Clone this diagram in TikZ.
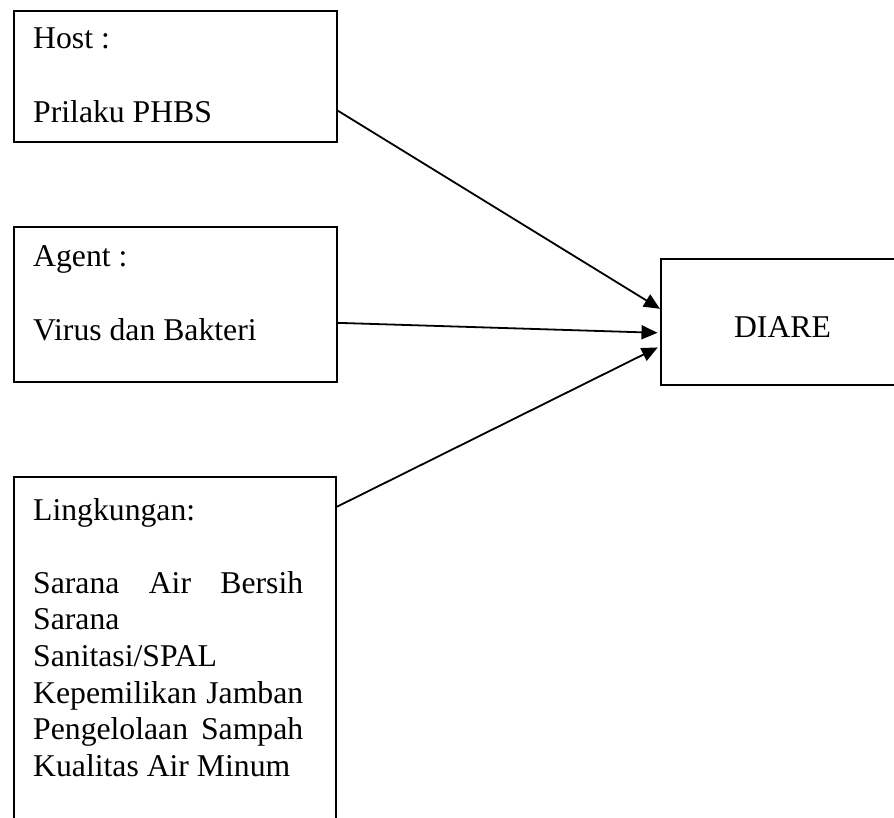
\documentclass[tikz,border=0pt]{standalone}
\usepackage{fontspec}
\setmainfont{Liberation Serif}
\usetikzlibrary{arrows.meta,calc}
\begin{document}
\begin{tikzpicture}[x=1pt,y=-1pt,
  box/.style={draw, line width=2pt, rectangle, inner sep=0pt, anchor=north west},
  txt/.style={anchor=base west, inner sep=0pt, font=\fontsize{31.7}{36.6}\selectfont},
  conn/.style={line width=1.8pt, -{Triangle[length=16pt,width=14pt]}}]
\useasboundingbox (0,0) rectangle (894,818);
\clip (0,0) rectangle (894,818);
% boxes
\node[box, minimum width=323, minimum height=131.5] (host) at (13,10) {};
\node[box, minimum width=323, minimum height=155] (agent) at (13,226) {};
\node[box, minimum width=322, minimum height=420] (ling) at (13,476) {};
\node[box, minimum width=243, minimum height=126] (diare) at (660,258) {};
% texts
\node[txt] (hostt) at ($(host.north west)+(20,39)$) {\vtop{\hbox{Host :}\hbox{}\hbox{Prilaku PHBS}}};
\node[txt] (agentt) at ($(agent.north west)+(20,41)$) {\vtop{\hbox{Agent :}\hbox{}\hbox{Virus dan Bakteri}}};
\node[txt] (lingt) at ($(ling.north west)+(20,44)$) {\vtop{\hbox{Lingkungan:}\hbox{}%
  \hbox to 270pt{Sarana\hfill Air\hfill Bersih}%
  \hbox{Sarana}%
  \hbox{Sanitasi/SPAL}%
  \hbox to 270pt{Kepemilikan\hfill Jamban}%
  \hbox to 270pt{Pengelolaan\hfill Sampah}%
  \hbox{Kualitas Air Minum}}};
\node[txt, anchor=base] (diaret) at ($(diare.center)+(0,15)$) {DIARE};
% connectors
\draw[conn] ($(host.north east)!0.755!(host.south east)$) -- ($(diare.north west)!0.397!(diare.south west)$);
\draw[conn, shorten >=2.5pt] ($(agent.north east)!0.617!(agent.south east)$) -- ($(diare.north west)!0.585!(diare.south west)$);
\draw[conn, shorten >=2.5pt] ($(ling.north east)+(0,30.7)$) -- ($(diare.north west)!0.69!(diare.south west)$);
\end{tikzpicture}
\end{document}
